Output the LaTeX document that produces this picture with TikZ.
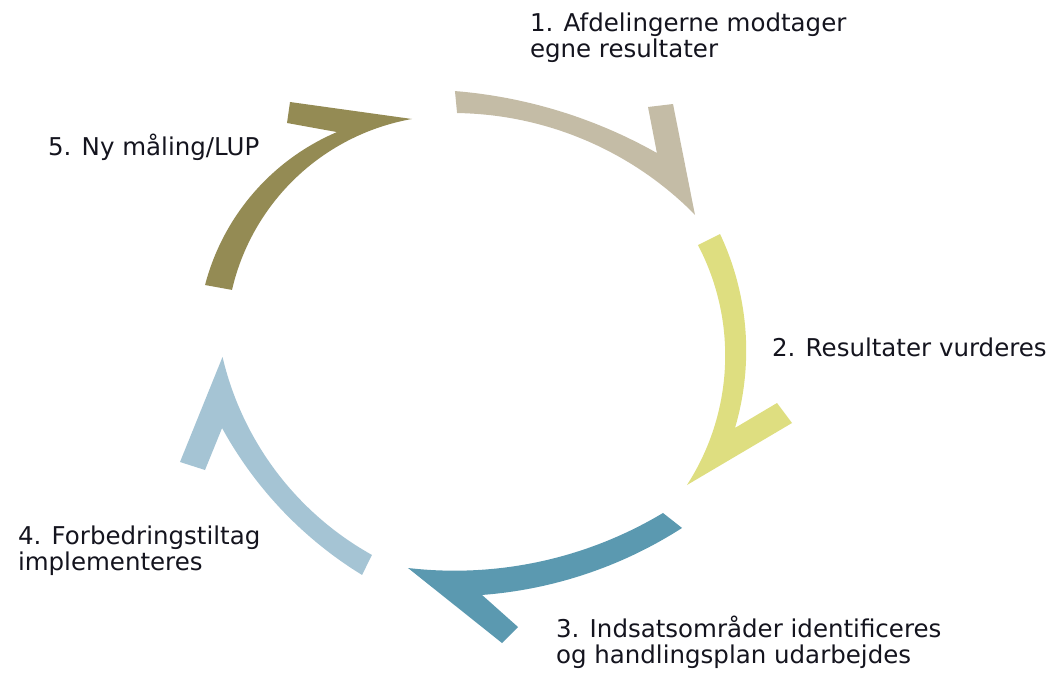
\documentclass[tikz,border=0pt]{standalone}
\usepackage{fontspec}
\setmainfont{DejaVu Sans}
\definecolor{cA}{RGB}{196,188,166}
\definecolor{cB}{RGB}{222,222,128}
\definecolor{cC}{RGB}{91,153,176}
\definecolor{cD}{RGB}{165,196,212}
\definecolor{cE}{RGB}{148,139,84}
\definecolor{txt}{RGB}{20,20,30}
\tikzset{
  lbl/.style={anchor=base west, inner sep=0pt, outer sep=0pt, text=txt, font=\fontsize{24.5}{26}\selectfont},
  edg/.style={domain=0:1, samples=40, smooth},
}
\begin{document}
\begin{tikzpicture}[x=1pt,y=-1pt]
\useasboundingbox (0,0) rectangle (1057,674);
% arrow 1
\fill[cA] plot[edg] ({415+492*cos(-85.34+24.8*\x)},{581.4+492*sin(-85.34+24.8*\x)})
  -- (648,107) -- (673,104) -- (695,215)
  -- plot[edg] ({452+341*cos(-44.53-44.63*\x)},{454+341*sin(-44.53-44.63*\x)}) -- cycle;
% arrow 2
\fill[cB] plot[edg] ({473.4+272.8*cos(-25.3+41.78*\x)},{350.6+272.8*sin(-25.3+41.78*\x)})
  -- (777,403) -- (792,423) -- (687,485)
  -- plot[edg] ({487.1+238.1*cos(32.9-60.57*\x)},{355.6+238.1*sin(32.9-60.57*\x)}) -- cycle;
% arrow 3
\fill[cC] plot[edg] ({449.6+430*cos(57.28+28.4*\x)},{166.2+430*sin(57.28+28.4*\x)})
  -- (518,627) -- (502,643) -- (408,568)
  -- plot[edg] ({454.5+405.5*cos(96.59-37.54*\x)},{165.2+405.5*sin(96.59-37.54*\x)}) -- cycle;
% arrow 4
\fill[cD] plot[edg] ({568.5+395.1*cos(121.5+29.77*\x)},{238.1+395.1*sin(121.5+29.77*\x)})
  -- (205,470) -- (180,462) -- (222.5,357)
  -- plot[edg] ({521.2+306.8*cos(166.8-47.7*\x)},{286.9+306.8*sin(166.8-47.7*\x)}) -- cycle;
% arrow 5
\fill[cE] plot[edg] ({426.8+229.2*cos(194.63+52.3*\x)},{342.9+229.2*sin(194.63+52.3*\x)})
  -- (287,123) -- (290,102) -- (412,119)
  -- plot[edg] ({451.3+225.1*cos(259.94-66.94*\x)},{340.6+225.1*sin(259.94-66.94*\x)}) -- cycle;
% labels
\node[lbl] (l1a) at (530,31.5) {1. Afdelingerne modtager};
\node[lbl] (l1b) at (530,57.5) {egne resultater};
\node[lbl] (l2) at (772,356) {2. Resultater vurderes};
\node[lbl] (l3a) at (556,637.5) {3. Indsatsområder identificeres};
\node[lbl] (l3b) at (556,663.5) {og handlingsplan udarbejdes};
\node[lbl] (l4a) at (18,544) {4. Forbedringstiltag};
\node[lbl] (l4b) at (18,570) {implementeres};
\node[lbl] (l5) at (48,155) {5. Ny måling/LUP};
\end{tikzpicture}
\end{document}
